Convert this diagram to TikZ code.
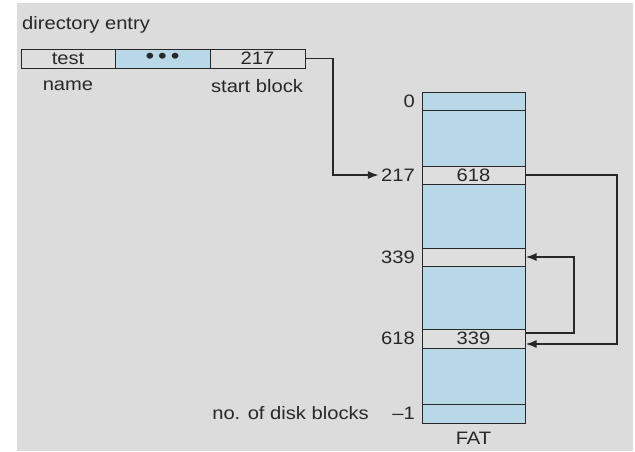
\documentclass[tikz,border=0pt]{standalone}
\usepackage{fontspec}
\setmainfont{Liberation Sans}[FakeStretch=1.12]
\usetikzlibrary{arrows.meta}
\definecolor{bg}{RGB}{220,220,220}
\definecolor{cellblue}{RGB}{184,216,232}
\definecolor{cellgrey}{RGB}{222,222,222}
\definecolor{ink}{RGB}{40,40,40}
\begin{document}
\begin{tikzpicture}[x=1pt,y=-1pt,
  txt/.style={font=\fontsize{18}{20}\selectfont, text=ink, inner sep=0pt},
  cell/.style={draw=ink, line width=1pt, inner sep=0pt, font=\fontsize{18}{20}\selectfont, text=ink},
  fatcell/.style={cell, minimum width=103pt},
  conn/.style={draw=ink, line width=1.8pt},
  tip/.style={-{Latex[length=11pt,width=8pt]}}
]
\useasboundingbox (0,0) rectangle (635,451);
\fill[bg] (17,3) rectangle (633,451);

% directory entry
\node[txt, anchor=west] (title) at (22,25) {directory entry};
\node[cell, fill=cellgrey, minimum width=94pt, minimum height=19pt] (nm) at (68,58.5) {test};
\node[cell, fill=cellblue, minimum width=95pt, minimum height=19pt] (dots) at (162.5,58.5) {\fontsize{22}{22}\selectfont\textbullet\hspace{4pt}\textbullet\hspace{4pt}\textbullet};
\node[cell, fill=cellgrey, minimum width=95pt, minimum height=19pt] (sb) at (257.5,58.5) {217};
\node[txt] (nmlab) at (68,86) {name};
\node[txt] (sblab) at (257,86) {start block};

% FAT
\node[fatcell, fill=cellblue, minimum height=18pt] (c0) at (473.5,101) {};
\node[fatcell, fill=cellblue, minimum height=56pt] (f1) at (473.5,138) {};
\node[fatcell, fill=cellgrey, minimum height=18pt] (c217) at (473.5,175) {618};
\node[fatcell, fill=cellblue, minimum height=64pt] (f2) at (473.5,216) {};
\node[fatcell, fill=cellgrey, minimum height=18pt] (c339) at (473.5,257) {};
\node[fatcell, fill=cellblue, minimum height=63pt] (f3) at (473.5,297.5) {};
\node[fatcell, fill=cellgrey, minimum height=19pt] (c618) at (473.5,338.5) {339};
\node[fatcell, fill=cellblue, minimum height=56pt] (f4) at (473.5,376) {};
\node[fatcell, fill=cellblue, minimum height=19pt] (clast) at (473.5,413.5) {};
\node[txt] (fatlab) at (473.5,438) {FAT};

% FAT labels
\node[txt, anchor=east] (l0) at (415,101) {0};
\node[txt, anchor=east] (l217) at (415,175) {217};
\node[txt, anchor=east] (l339) at (415,257) {339};
\node[txt, anchor=east] (l618) at (415,338.5) {618};
\node[txt, anchor=east] (llast) at (415,413.5) {\textendash1};
\node[txt, anchor=east] (ndb) at (369,413.5) {no. of disk blocks};

% connectors
\coordinate (k1) at (333,58.5);
\draw[conn, tip] (sb.east) -- (k1) |- ([xshift=-2pt]l217.west);
\coordinate (k2) at (617,175);
\draw[conn, tip] (c217.east) -- (k2) |- ([yshift=-5.5pt]c618.east);
\coordinate (k3) at (574,257);
\draw[conn, tip] ([yshift=5.5pt]c618.east) -| (k3) -- (c339.east);
\end{tikzpicture}
\end{document}
